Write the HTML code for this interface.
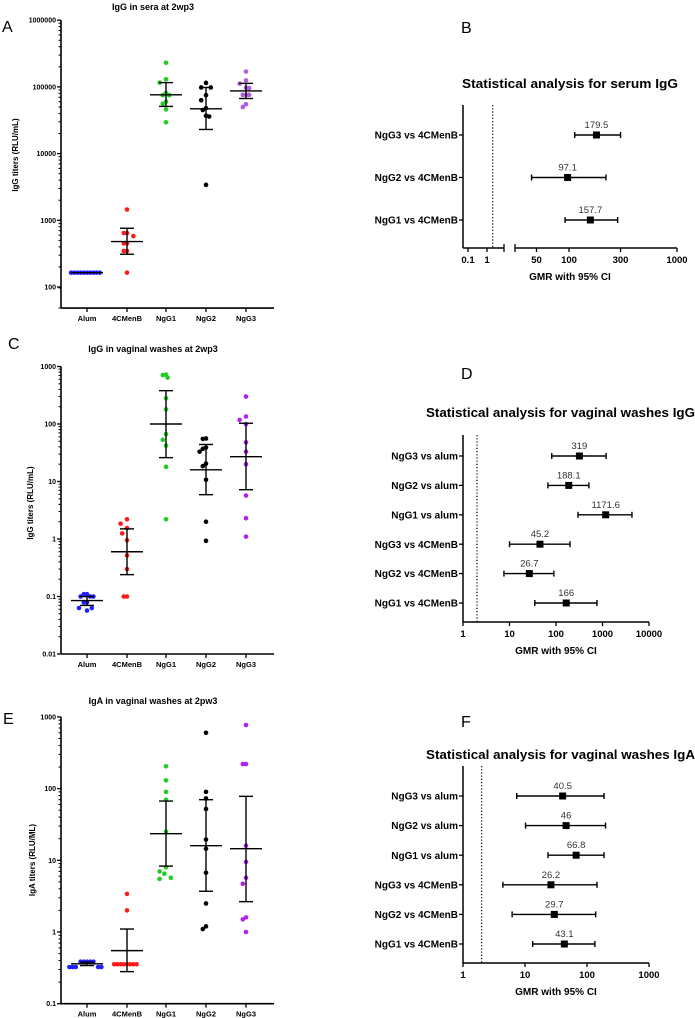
<!DOCTYPE html>
<html><head><meta charset="utf-8"><style>
html,body{margin:0;padding:0;background:#fff;}
svg{display:block;font-family:"Liberation Sans",Arial,sans-serif;}
</style></head><body>
<svg id="fig" width="695" height="1018" viewBox="0 0 695 1018" xmlns="http://www.w3.org/2000/svg"></svg>
<script>
// ---------- DATA ----------
const categories = ['Alum','4CMenB','NgG1','NgG2','NgG3'];
// Panel A: IgG in sera
const aAlum  = [164,164,164,164,164,164,164,164,164,164];
const aMenB  = [1450,645,645,580,450,450,347,347,164];
const aNgG1  = [230000,130000,116000,81000,75000,75000,60000,56000,46000,29500];
const aNgG2  = [115000,98000,98000,75000,63000,48000,45000,37000,36000,3400];
const aNgG3  = [170000,125000,112000,96000,97000,76000,76000,76000,55000,50000];
const aMean  = [164,480,76000,47000,87000];
const aLow   = [164,310,51000,23000,67000];
const aHigh  = [164,760,116000,98000,113000];
// Panel C: IgG vaginal washes
const cAlum  = [0.11,0.11,0.1,0.1,0.1,0.079,0.079,0.063,0.063,0.057];
const cMenB  = [2.2,1.85,1.55,1.25,0.95,0.52,0.3,0.1,0.1];
const cNgG1  = [720,710,640,280,180,67,53,42,18,2.2];
const cNgG2  = [56,55,39,37,33,20.5,18.5,10.7,2.0,0.93];
const cNgG3  = [300,135,118,100,48,33,20,5.7,2.3,1.1];
const cMean  = [0.085,0.6,100,16,27];
const cLow   = [0.07,0.24,26,5.9,7.2];
const cHigh  = [0.1,1.5,380,44,103];
// Panel E: IgA vaginal washes
const eAlum  = [0.385,0.385,0.385,0.385,0.385,0.325,0.325,0.325,0.325,0.325];
const eMenB  = [3.4,2.0,0.355,0.355,0.355,0.355,0.355,0.355,0.355,0.355];
const eNgG1  = [205,130,90,70,25,8,7,6.5,5.7,5.5];
const eNgG2  = [600,90,73,52,19.5,14.5,6.7,2.5,1.2,1.1];
const eNgG3  = [770,220,220,16,9.5,5.7,4.7,1.6,1.5,1.0];
const eMean  = [0.36,0.55,23.5,16,14.5];
const eLow   = [0.34,0.28,8.3,3.7,2.65];
const eHigh  = [0.38,1.1,67,70,78];
// Panel B forest
const bLabels = ['NgG3 vs 4CMenB','NgG2 vs 4CMenB','NgG1 vs 4CMenB'];
const bGMR  = [179.5,97.1,157.7];
const bLow  = [113,45,92];
const bHigh = [300,220,282];
// Panel D forest
const dLabels = ['NgG3 vs alum','NgG2 vs alum','NgG1 vs alum','NgG3 vs 4CMenB','NgG2 vs 4CMenB','NgG1 vs 4CMenB'];
const dGMR  = [319,188.1,1171.6,45.2,26.7,166];
const dLow  = [81,67,297,10,7.6,35];
const dHigh = [1195,510,4300,200,90,760];
// Panel F forest
const fLabels = ['NgG3 vs alum','NgG2 vs alum','NgG1 vs alum','NgG3 vs 4CMenB','NgG2 vs 4CMenB','NgG1 vs 4CMenB'];
const fGMR  = [40.5,46,66.8,26.2,29.7,43.1];
const fLow  = [7.35,10.2,23.5,4.4,6.2,13.3];
const fHigh = [188,199,188,145,138,134];

// ---------- HELPERS ----------
const NS='http://www.w3.org/2000/svg';
const svg=document.getElementById('fig');
function mk(tag,attrs,parent,text){
  const e=document.createElementNS(NS,tag);
  for(const k in attrs) e.setAttribute(k,attrs[k]);
  if(text!==undefined) e.textContent=text;
  (parent||svg).appendChild(e);
  return e;
}
function line(g,x1,y1,x2,y2,w,extra){
  return mk('line',Object.assign({x1,y1,x2,y2,stroke:'#000','stroke-width':w||1.3},extra||{}),g);
}
const catX=[87,127,166,206,246];

function scatterPanel(cfg){
  const g=mk('g',{});
  
  
  const y=v=>cfg.yRef-(Math.log10(v)-cfg.refExp)*cfg.dec;
  const ax=61;
  const t=mk('text',{x:153,y:cfg.titleY,'text-anchor':'middle','font-size':'9px','font-weight':'bold'},g,cfg.title);
  
  
  const p=mk('text',{x:cfg.letterX,y:cfg.letterY,'font-size':'16px'},g,cfg.letter);
  
  
  const yTop=y(cfg.maxV), yBot=y(cfg.minV);
  const ya=line(g,ax,yTop,ax,yBot,1.6);
  
  
  for(let e=Math.ceil(Math.log10(cfg.minV)-1e-9); e<=Math.log10(cfg.maxV)+1e-9; e++){
    const v=Math.pow(10,e);
    line(g,ax-4,y(v),ax,y(v),1.3);
    const lbl=mk('text',{x:ax-5,y:y(v)+2.5,'text-anchor':'end','font-size':'7px','font-weight':'bold'},g,cfg.fmt(v));
    
    
    for(let m=2;m<10;m++){
      const mv=v*m; if(mv>cfg.maxV*1.0001) break;
      line(g,ax-2.5,y(mv),ax,y(mv),1);
    }
  }
  for(let m=1;m<10;m++){const mv=cfg.minV*m; if(mv<Math.pow(10,Math.ceil(Math.log10(cfg.minV)-1e-9))) line(g,ax-2.5,y(mv),ax,y(mv),1);}
  const yt=mk('text',{x:0,y:0,'text-anchor':'middle','font-size':'8px','font-weight':'bold',transform:`translate(${cfg.ytX},${cfg.ytY}) rotate(-90)`},g,cfg.yTitle);
  
  
  const xa=line(g,ax,yBot,274,yBot,1.6);
  
  
  categories.forEach((c,i)=>{
    line(g,catX[i],yBot,catX[i],yBot+4,1.3);
    const l=mk('text',{x:catX[i],y:yBot+13,'text-anchor':'middle','font-size':'7.5px','font-weight':'bold'},g,c);
    
    
  });
  cfg.groups.forEach((vals,i)=>{
    const placed=[];
    const sorted=vals.slice().sort((a,b)=>b-a);
    sorted.forEach(v=>{
      const py=y(v);
      let off=0;
      for(let k=0;k<60;k++){
        const cand=(k===0)?0:(k%2? -1:1)*Math.ceil(k/2)*1.6;
        const ok=placed.every(q=>{
          const dx=Math.abs(q[0]-cand), dy=Math.abs(q[1]-py);
          if(dy<0.6) return dx>=2.9;
          return Math.hypot(dx,dy)>=(dy<3?3.2:6.5);
        });
        if(ok){off=cand;break;}
      }
      placed.push([off,py]);
      const c=mk('circle',{cx:catX[i]+off,cy:py,r:2.3,fill:cfg.colors[i]},g);
      
      
    });
    const mx=catX[i];
    const ml=line(g,mx-16,y(cfg.mean[i]),mx+16,y(cfg.mean[i]),1.4);
    
    
    line(g,mx,y(cfg.low[i]),mx,y(cfg.high[i]),1.4);
    line(g,mx-7,y(cfg.low[i]),mx+7,y(cfg.low[i]),1.4);
    line(g,mx-7,y(cfg.high[i]),mx+7,y(cfg.high[i]),1.4);
  });
}
const fmtPlain=v=>(v>=1?String(Math.round(v)):String(+v.toPrecision(2)));

scatterPanel({name:'panel-a-serum-igg',title:'IgG in sera at 2wp3',titleY:10,letter:'A',letterX:2,letterY:32,
  yRef:287,refExp:2,dec:66.7,minV:48.4,maxV:1e6,fmt:fmtPlain,yTitle:'IgG titers (RLU/mL)',ytX:18,ytY:155,
  groups:[aAlum,aMenB,aNgG1,aNgG2,aNgG3],mean:aMean,low:aLow,high:aHigh,
  colors:['#1f1fff','#ff1a1a','#22cc22','#000','#b25ddf']});
scatterPanel({name:'panel-c-vaginal-igg',title:'IgG in vaginal washes at 2wp3',titleY:352,letter:'C',letterX:8,letterY:349,
  yRef:539,refExp:0,dec:57.5,minV:0.01,maxV:1000,fmt:fmtPlain,yTitle:'IgG titers (RLU/mL)',ytX:33,ytY:503,
  groups:[cAlum,cMenB,cNgG1,cNgG2,cNgG3],mean:cMean,low:cLow,high:cHigh,
  colors:['#1f1fff','#ff1a1a','#22cc22','#000','#b020ef']});
scatterPanel({name:'panel-e-vaginal-iga',title:'IgA in vaginal washes at 2pw3',titleY:704,letter:'E',letterX:3,letterY:724,
  yRef:932,refExp:0,dec:71.7,minV:0.1,maxV:1000,fmt:fmtPlain,yTitle:'IgA titers (RLU/ML)',ytX:35,ytY:860,
  groups:[eAlum,eMenB,eNgG1,eNgG2,eNgG3],mean:eMean,low:eLow,high:eHigh,
  colors:['#1f1fff','#ff1a1a','#22cc22','#000','#b020ef']});

function forestPanel(cfg){
  const g=mk('g',{});
  
  
  const ax=463;
  const p=mk('text',{x:461,y:cfg.letterY,'font-size':'16px'},g,cfg.letter);
  
  
  const t=mk('text',{x:cfg.titleX,y:cfg.titleY,'font-size':'12.5px','font-weight':'bold',textLength:cfg.titleW,lengthAdjust:'spacingAndGlyphs'},g,cfg.title);
  
  
  const ya=line(g,ax,cfg.top,ax,cfg.bot,1.5);
  
  
  cfg.segments.forEach(s=>{
    const xa=line(g,s[0],cfg.bot,s[1],cfg.bot,1.5);
    
    
  });
  cfg.breakTicks.forEach(bx=>line(g,bx,cfg.bot-4,bx,cfg.bot+4,1.3));
  cfg.ticks.forEach(v=>{
    const x=cfg.x(v);
    line(g,x,cfg.bot,x,cfg.bot+4,1.3);
    const l=mk('text',{x:x,y:cfg.bot+15,'text-anchor':'middle','font-size':'9.5px','font-weight':'bold'},g,String(v));
    
    
  });
  const xt=mk('text',{x:cfg.xtX,y:cfg.bot+32,'text-anchor':'middle','font-size':'10px','font-weight':'bold'},g,'GMR with 95% CI');
  
  
  const ref=line(g,cfg.x(2),cfg.top,cfg.x(2),cfg.bot,1.2,{'stroke-dasharray':'1.2,2'});
  
  
  const n=cfg.labels.length;
  const step=(cfg.rowLast-cfg.rowFirst)/(n-1);
  cfg.labels.forEach((lab,i)=>{
    const y=cfg.rowFirst+i*step;
    line(g,ax-4,y,ax,y,1.3);
    const l=mk('text',{x:ax-5,y:y+3.6,'text-anchor':'end','font-size':'10px','font-weight':'bold'},g,lab);
    
    
    const x1=cfg.x(cfg.low[i]),x2=cfg.x(cfg.high[i]),xm=cfg.x(cfg.gmr[i]);
    const ci=line(g,x1,y,x2,y,1.4);
    
    
    line(g,x1,y-3,x1,y+3,1.4); line(g,x2,y-3,x2,y+3,1.4);
    const sq=mk('rect',{x:xm-3.5,y:y-3.5,width:7,height:7,fill:'#000'},g);
    
    
    const vl=mk('text',{x:xm,y:y-7,'text-anchor':'middle','font-size':'9.5px',fill:'#333'},g,String(cfg.gmr[i]));
    
    
  });
}
forestPanel({name:'panel-b-serum-forest',letter:'B',letterY:33,title:'Statistical analysis for serum IgG',titleX:462,titleY:88,titleW:216,
  top:105,bot:248,segments:[[463,504],[515,677]],breakTicks:[504,515],ticks:[0.1,1,50,100,300,1000],xtX:570,
  x:v=>v<=5?487+Math.log10(v)*19:569+(Math.log10(v)-2)*108,
  labels:bLabels,gmr:bGMR,low:bLow,high:bHigh,rowFirst:135,rowLast:220});
forestPanel({name:'panel-d-vaginal-igg-forest',letter:'D',letterY:379,title:'Statistical analysis for vaginal washes IgG',titleX:426,titleY:417,titleW:269,
  top:435,bot:622,segments:[[463,649]],breakTicks:[],ticks:[1,10,100,1000,10000],xtX:556,
  x:v=>463+Math.log10(v)*46.5,
  labels:dLabels,gmr:dGMR,low:dLow,high:dHigh,rowFirst:456,rowLast:603});
forestPanel({name:'panel-f-vaginal-iga-forest',letter:'F',letterY:727,title:'Statistical analysis for vaginal washes IgA',titleX:426,titleY:759,titleW:269,
  top:766,bot:963,segments:[[463,649]],breakTicks:[],ticks:[1,10,100,1000],xtX:556,
  x:v=>463+Math.log10(v)*62,
  labels:fLabels,gmr:fGMR,low:fLow,high:fHigh,rowFirst:796,rowLast:944});
</script>
</body></html>
